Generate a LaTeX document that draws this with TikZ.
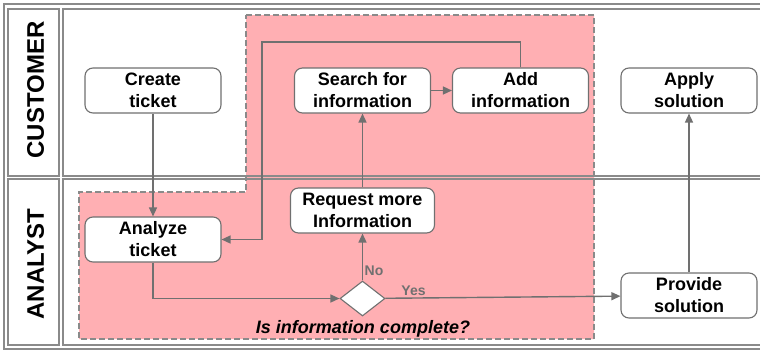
\documentclass[tikz,border=0pt]{standalone}
\usepackage{fontspec}
\setmainfont{Liberation Sans}
\usetikzlibrary{arrows.meta,shapes.geometric}
\definecolor{linegray}{HTML}{707070}
\definecolor{framegray}{HTML}{8A8A8A}
\definecolor{zonepink}{HTML}{FFAFB3}
\tikzset{
  task/.style={draw=linegray, fill=white, line width=1.1pt, rounded corners=8pt,
    minimum width=136pt, minimum height=45pt, inner sep=2pt, align=center,
    font=\bfseries\fontsize{18}{22}\selectfont},
  gate/.style={diamond, draw=linegray, fill=white, line width=1.1pt,
    minimum width=45pt, minimum height=35pt, inner sep=0pt},
  flow/.style={draw=linegray, line width=1.4pt, -{Triangle[length=9pt,width=8pt]}},
  answer/.style={text=linegray, inner sep=1.5pt, font=\bfseries\fontsize{14}{16}\selectfont},
  lanecell/.style={draw=framegray, line width=1.4pt},
  lanename/.style={rotate=90, font=\bfseries\fontsize{24}{26}\selectfont}
}
\begin{document}
\begin{tikzpicture}[x=1pt,y=-1pt]
  \useasboundingbox (0,0) rectangle (760,351);
  % grey zone
  \draw[fill=zonepink, draw=framegray, line width=1.2pt, dash pattern=on 6pt off 3pt]
    (246,15) -- (594,15) -- (594,339) -- (79,339) -- (79,192) -- (246,192) -- cycle;
  % pool and lanes
  \draw[lanecell] (4,4) rectangle (775,349);
  \draw[lanecell] (8,9) rectangle (59,176);
  \draw[lanecell] (63,9) rectangle (775,176);
  \draw[lanecell] (8,179) rectangle (59,345);
  \draw[lanecell] (63,179) rectangle (775,345);
  \node[lanename] (customer) at (35.5,90) {CUSTOMER};
  \node[lanename] (analyst) at (35.5,264) {ANALYST};
  % customer tasks
  \node[task] (create) at (153,90.5) {Create\\ticket};
  \node[task] (search) at (362.5,90.5) {Search for\\information};
  \node[task] (add) at (520.5,90.5) {Add\\information};
  \node[task] (apply) at (689,90.5) {Apply\\solution};
  % analyst tasks
  \node[task] (analyze) at (153,239.5) {Analyze\\ticket};
  \node[task, minimum width=144pt] (request) at (362.5,210.5) {Request more\\Information};
  \node[gate] (check) at (362.5,298.5) {};
  \node[task] (provide) at (689,295.5) {Provide\\solution};
  \node[font=\bfseries\itshape\fontsize{18}{22}\selectfont] (question) at (363,329) {Is information complete?};
  % flows
  \coordinate (back) at (262,42);
  \draw[flow] (create) -- (analyze);
  \draw[flow] (add.north) |- (back) |- (analyze.east);
  \draw[flow] (search) -- (add);
  \draw[flow] (request) -- (search);
  \draw[flow] (analyze) |- (check);
  \draw[flow] (check) -- node[answer, right, pos=0.2] {No} (request);
  \draw[flow] (check) -- node[answer, above, pos=0.12] {Yes} (provide);
  \draw[flow] (provide) -- (apply);
\end{tikzpicture}
\end{document}
